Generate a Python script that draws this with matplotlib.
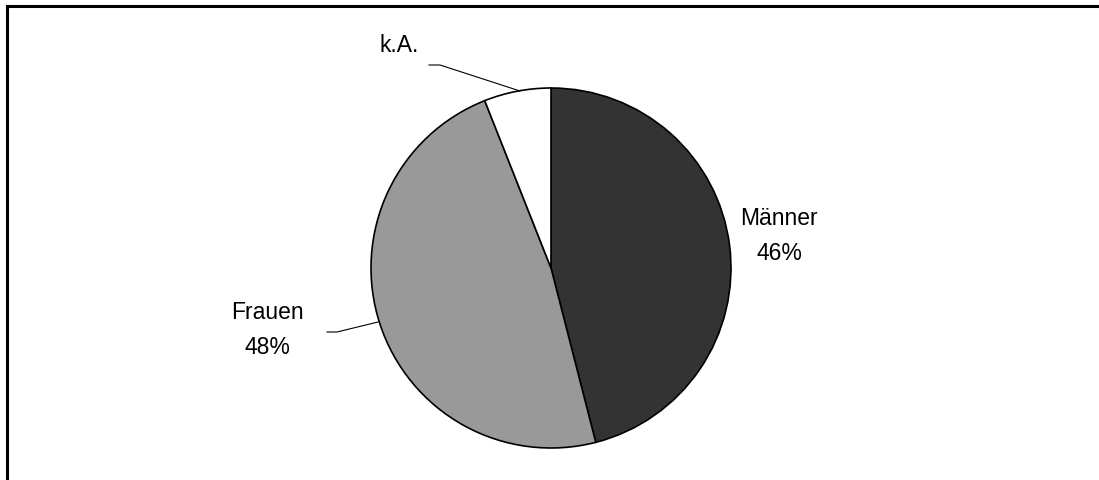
import matplotlib.pyplot as plt
from matplotlib.patches import Rectangle

plt.rcParams['font.family'] = ['Liberation Sans', 'DejaVu Sans']

# Data
labels = ['Männer', 'Frauen', 'k.A.']
shares = [46, 48, 6]
colors = ['#333333', '#999999', '#ffffff']

W, H = 1099, 480
fig = plt.figure(figsize=(W / 100, H / 100), dpi=100)
ax = fig.add_axes([0, 0, 1, 1])

# Pie in pixel coordinates (y up)
cx, cy, r = 551, H - 268, 180
ax.pie(shares, colors=colors, startangle=90, counterclock=False,
       center=(cx, cy), radius=r, frame=True,
       wedgeprops=dict(edgecolor='black', linewidth=1.2))
ax.set_xlim(0, W)
ax.set_ylim(0, H)
ax.axis('off')

# Frame around chart area (right/bottom outside image)
ax.add_patch(Rectangle((7, -20), W + 20, H - 6 + 20, fill=False,
                       edgecolor='black', linewidth=2.2, clip_on=False))

fs = 16.5
# Männer label (no leader)
ax.text(779, H - 236, f'{labels[0]}\n{shares[0]}%', ha='center', va='center',
        fontsize=fs, linespacing=1.65)
# Frauen label with leader line
ax.text(267, H - 330, f'{labels[1]}\n{shares[1]}%', ha='center', va='center',
        fontsize=fs, linespacing=1.65)
ax.plot([327, 337, 378], [H - 332, H - 332, H - 322], color='black', lw=0.8)
# k.A. label with leader line
ax.text(399, H - 46, f'{labels[2]}', ha='center', va='center', fontsize=fs)
ax.plot([429, 440, 520], [H - 65, H - 65, H - 91], color='black', lw=0.8)

fig.savefig('out.png', dpi=100)
